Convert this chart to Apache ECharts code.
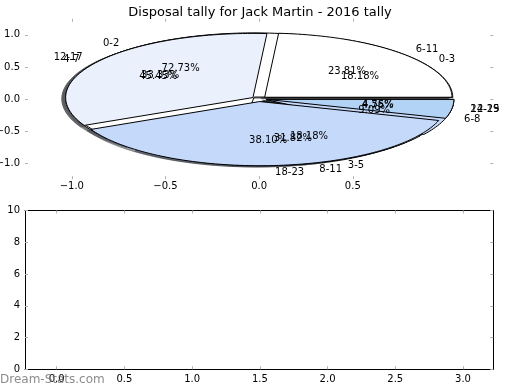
<!DOCTYPE html>
<html><head><meta charset="utf-8">
<script src="https://cdn.jsdelivr.net/npm/echarts@6/dist/echarts.min.js"></script>
<style>html,body{margin:0;padding:0;background:#fff}#c{width:520px;height:390px}</style>
</head><body><div id="c"></div>
<script>
const titleText = 'Disposal tally for Jack Martin - 2016 tally';
const watermarkText = 'Dream-Stats.com';
// three overlaid pies (drawn in this order)
const pie1Labels = ['0-3', '4-7', '8-11', '12-15'];
const pie1Counts = [4, 10, 7, 1];
const pie2Labels = ['0-2', '3-5', '6-8'];
const pie2Counts = [16, 4, 2];
const pie3Labels = ['6-11', '12-17', '18-23', '24-29'];
const pie3Counts = [5, 7, 8, 1];
const topXTicks = [-1.0, -0.5, 0.0, 0.5];
const topYTicks = [-1.0, -0.5, 0.0, 0.5, 1.0];
const bottomXTicks = [0.0, 0.5, 1.0, 1.5, 2.0, 2.5, 3.0];
const bottomYTicks = [0, 2, 4, 6, 8, 10];
const wedgeColors = ['#ffffff', '#eaf1fd', '#c5d9fb', '#b3d3f6'];

const EXPLODE = 0.04, RADIUS = 1, LABEL_DIST = 1.1, PCT_DIST = 0.6, SH = -0.02;
const FONT = '"DejaVu Sans", sans-serif';

function buildWedges(labels, counts) {
  const total = counts.reduce((a, b) => a + b, 0);
  let t1 = 0;
  return counts.map((c, i) => {
    const frac = c / total;
    const t2 = t1 + frac;
    const mid = Math.PI * (t1 + t2);
    const w = {
      label: labels[i], pct: (100 * frac).toFixed(2) + '%',
      a1: t1 * 360, a2: t2 * 360, mid: mid,
      cx: EXPLODE * Math.cos(mid), cy: EXPLODE * Math.sin(mid),
      color: wedgeColors[i % wedgeColors.length]
    };
    t1 = t2;
    return w;
  });
}
const pies = [buildWedges(pie1Labels, pie1Counts), buildWedges(pie2Labels, pie2Counts), buildWedges(pie3Labels, pie3Counts)];
const allWedges = [].concat(...pies);

function wedgePoints(api, w, dx, dy) {
  const pts = [api.coord([w.cx + dx, w.cy + dy])];
  const n = Math.max(6, Math.ceil((w.a2 - w.a1) / 1.5));
  for (let k = 0; k <= n; k++) {
    const a = (w.a1 + (w.a2 - w.a1) * k / n) * Math.PI / 180;
    pts.push(api.coord([w.cx + dx + RADIUS * Math.cos(a), w.cy + dy + RADIUS * Math.sin(a)]));
  }
  return pts;
}
function shadowColor(hex) {
  const r = parseInt(hex.slice(1, 3), 16), g = parseInt(hex.slice(3, 5), 16), b = parseInt(hex.slice(5, 7), 16);
  return 'rgba(' + Math.round(r * 0.3) + ',' + Math.round(g * 0.3) + ',' + Math.round(b * 0.3) + ',0.5)';
}

const fmt1 = v => (v < 0 ? '\u2212' : '') + Math.abs(v).toFixed(1);
const fmt0 = v => String(Math.round(v));
const tickStyle = { show: true, inside: true, length: 3, lineStyle: { color: '#b0b0b0', width: 1 } };
const lbl = (vals, f, m) => ({ customValues: vals, formatter: f, margin: m, color: '#000', fontSize: 10, fontFamily: FONT });

function axis(grid, pos, min, max, ticks, labelVals, f, m, line) {
  return {
    gridIndex: grid, type: 'value', position: pos, min: min, max: max,
    axisLine: { show: line, onZero: false, lineStyle: { color: '#000', width: 1 } },
    axisTick: Object.assign({ customValues: ticks }, tickStyle),
    axisLabel: labelVals ? lbl(labelVals, f, m) : { show: false },
    splitLine: { show: false }
  };
}

const series = [];
// shadows (beneath everything)
series.push({
  type: 'custom', xAxisIndex: 0, yAxisIndex: 0, z: 1, clip: false, silent: true,
  data: allWedges.map(w => [w.cx, w.cy]),
  renderItem: (params, api) => {
    const w = allWedges[params.dataIndex];
    const c = shadowColor(w.color);
    return { type: 'polygon', shape: { points: wedgePoints(api, w, SH, SH) }, style: { fill: c, stroke: c, lineWidth: 1 } };
  }
});
pies.forEach((ws, pi) => {
  series.push({
    type: 'custom', xAxisIndex: 0, yAxisIndex: 0, z: 2 + pi, clip: false, silent: true,
    data: ws.map(w => [w.cx, w.cy]),
    renderItem: (params, api) => {
      const w = ws[params.dataIndex];
      return { type: 'polygon', shape: { points: wedgePoints(api, w, 0, 0) }, style: { fill: w.color, stroke: '#000', lineWidth: 1 } };
    }
  });
});
// labels and percentages
series.push({
  type: 'custom', xAxisIndex: 0, yAxisIndex: 0, z: 10, clip: false, silent: true,
  data: allWedges.map(w => [w.cx, w.cy]),
  renderItem: (params, api) => {
    const w = allWedges[params.dataIndex];
    const xt = w.cx + LABEL_DIST * RADIUS * Math.cos(w.mid);
    const yt = w.cy + LABEL_DIST * RADIUS * Math.sin(w.mid);
    const p1 = api.coord([xt, yt]);
    const p2 = api.coord([w.cx + PCT_DIST * RADIUS * Math.cos(w.mid), w.cy + PCT_DIST * RADIUS * Math.sin(w.mid)]);
    return {
      type: 'group', children: [
        { type: 'text', x: p1[0], y: p1[1], style: { text: w.label, fill: '#000', font: '10px ' + FONT, align: xt > 0 ? 'left' : 'right', verticalAlign: 'middle' } },
        { type: 'text', x: p2[0], y: p2[1], style: { text: w.pct, fill: '#000', font: '10px ' + FONT, align: 'center', verticalAlign: 'middle' } }
      ]
    };
  }
});

const option = {
  animation: false,
  backgroundColor: '#fff',
  title: { text: titleText, left: 'center', top: 1, textStyle: { fontSize: 13, fontWeight: 'normal', fontFamily: FONT, color: '#000' } },
  grid: [
    { left: 25, right: 26.7, top: 18.8, bottom: 210.8, containLabel: false, outerBoundsMode: 'none' },
    { left: 25, right: 26.7, top: 210.5, bottom: 20.7, containLabel: false, outerBoundsMode: 'none' }
  ],
  xAxis: [
    axis(0, 'bottom', -1.25, 1.25, topXTicks, topXTicks, fmt1, 2, false),
    axis(0, 'top', -1.25, 1.25, topXTicks, null, null, 0, false),
    axis(1, 'bottom', -0.234, 3.224, bottomXTicks, bottomXTicks, fmt1, 5, true),
    axis(1, 'top', -0.234, 3.224, bottomXTicks, null, null, 0, true)
  ],
  yAxis: [
    axis(0, 'left', -1.25, 1.25, topYTicks, topYTicks, fmt1, 5, false),
    axis(0, 'right', -1.25, 1.25, topYTicks, null, null, 0, false),
    axis(1, 'left', 0, 10, bottomYTicks, bottomYTicks, fmt0, 5, true),
    axis(1, 'right', 0, 10, bottomYTicks, null, null, 0, true)
  ],
  graphic: [
    { type: 'text', left: 0, top: 374, z: 100, style: { text: watermarkText, fill: 'rgba(120,120,120,0.85)', font: '12px ' + FONT } }
  ],
  series: series
};
const chart = echarts.init(document.getElementById('c'), null, { renderer: 'canvas' });
chart.setOption(option);
</script></body></html>
